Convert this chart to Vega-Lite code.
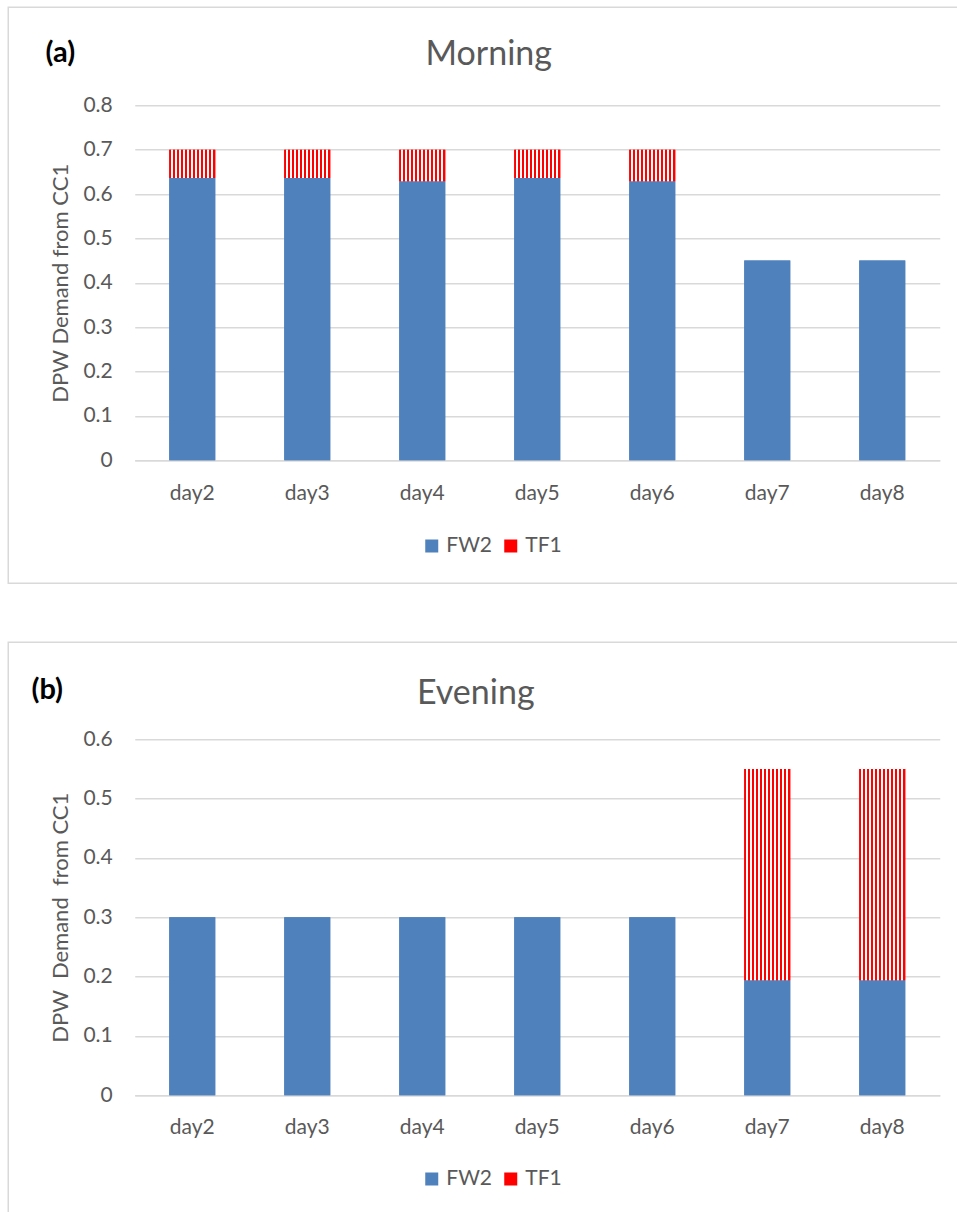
{
  "$schema": "https://vega.github.io/schema/vega-lite/v6.json",
  "padding": {"left": 7.25, "top": 6.25, "right": 0, "bottom": 0},
  "background": "white",
  "spacing": 57,
  "resolve": {"scale": {"fill": "independent"}, "legend": {"fill": "independent"}},
  "config": {
    "font": "Lato",
    "view": {"stroke": "#d9d9d9", "strokeWidth": 1.5},
    "axis": {"labelFont": "Lato", "titleFont": "Lato"},
    "legend": {"labelFont": "Lato"},
    "title": {"font": "Lato"}
  },
  "datasets": {
    "morning": [
      {"day": "day2", "series": "FW2", "value": 0.636},
      {"day": "day2", "series": "TF1", "value": 0.064},
      {"day": "day3", "series": "FW2", "value": 0.636},
      {"day": "day3", "series": "TF1", "value": 0.064},
      {"day": "day4", "series": "FW2", "value": 0.629},
      {"day": "day4", "series": "TF1", "value": 0.071},
      {"day": "day5", "series": "FW2", "value": 0.636},
      {"day": "day5", "series": "TF1", "value": 0.064},
      {"day": "day6", "series": "FW2", "value": 0.629},
      {"day": "day6", "series": "TF1", "value": 0.071},
      {"day": "day7", "series": "FW2", "value": 0.45},
      {"day": "day8", "series": "FW2", "value": 0.45}
    ],
    "evening": [
      {"day": "day2", "series": "FW2", "value": 0.3},
      {"day": "day3", "series": "FW2", "value": 0.3},
      {"day": "day4", "series": "FW2", "value": 0.3},
      {"day": "day5", "series": "FW2", "value": 0.3},
      {"day": "day6", "series": "FW2", "value": 0.3},
      {"day": "day7", "series": "FW2", "value": 0.194},
      {"day": "day7", "series": "TF1", "value": 0.356},
      {"day": "day8", "series": "FW2", "value": 0.194},
      {"day": "day8", "series": "TF1", "value": 0.356}
    ]
  },
  "vconcat": [
    {
      "title": {"text": "(a)", "anchor": "start", "frame": "bounds", "dx": 38, "offset": -84, "baseline": "alphabetic", "fontSize": 29, "fontWeight": "bold", "color": "#000000"},
      "vconcat": [
        {
          "data": {"name": "morning"},
          "width": 961,
          "height": 576,
          "title": {"text": "Morning", "anchor": "middle", "frame": "bounds", "offset": -92, "baseline": "alphabetic", "fontSize": 34, "fontWeight": "normal", "color": "#595959"},
          "encoding": {
            "x": {
              "field": "day", "type": "nominal",
              "sort": ["day2", "day3", "day4", "day5", "day6", "day7", "day8"],
              "scale": {"range": [126.5, 931.5], "paddingInner": 0.6, "paddingOuter": 0.3},
              "axis": {"title": null, "labelAngle": 0, "offset": -123, "ticks": false, "tickSize": 0, "domain": true, "domainColor": "#d9d9d9", "domainWidth": 1.5, "labelPadding": 22, "labelFontSize": 21, "labelColor": "#595959", "grid": false}
            },
            "y": {
              "field": "value", "type": "quantitative", "stack": "zero",
              "scale": {"domain": [0, 0.8], "nice": false, "range": [453, 98]},
              "axis": {"title": "DPW Demand from CC1", "offset": -126.5, "values": [0, 0.1, 0.2, 0.3, 0.4, 0.5, 0.6, 0.7, 0.8], "format": ".1~f", "ticks": false, "tickSize": 0, "domain": false, "grid": true, "gridColor": "#d9d9d9", "gridWidth": 1.5, "labelPadding": 22.5, "labelFontSize": 21, "labelColor": "#595959", "titleFontSize": 22, "titleFontWeight": "normal", "titleColor": "#595959", "titlePadding": 10}
            },
            "order": {"field": "series", "type": "nominal", "sort": "ascending"}
          },
          "layer": [
            {
              "mark": {"type": "bar"},
              "encoding": {
                "fill": {
                  "field": "series", "type": "nominal",
                  "scale": {"domain": ["FW2", "TF1"], "range": ["#4f81bd", "#ff0000"]},
                  "legend": {
                    "title": null, "orient": "none", "legendX": 413, "legendY": 528, "direction": "horizontal",
                    "symbolType": "square", "symbolSize": 169, "symbolStrokeWidth": 0, "labelFontSize": 21, "labelColor": "#595959", "labelOffset": 4, "columnPadding": 8, "padding": 0
                  }
                }
              }
            },
            {
              "mark": {"type": "bar"},
              "encoding": {
                "detail": {"field": "series", "type": "nominal"},
                "fill": {
                  "condition": {"test": "datum.series === 'TF1'", "value": {"gradient": "linear", "x1": 0, "y1": 0, "x2": 1, "y2": 0, "stops": [
                    {"offset": 0, "color": "#ff0000"},
                    {"offset": 0.04348, "color": "#ff0000"}, {"offset": 0.04348, "color": "#ffffff"},
                    {"offset": 0.08696, "color": "#ffffff"}, {"offset": 0.08696, "color": "#ff0000"},
                    {"offset": 0.13043, "color": "#ff0000"}, {"offset": 0.13043, "color": "#ffffff"},
                    {"offset": 0.17391, "color": "#ffffff"}, {"offset": 0.17391, "color": "#ff0000"},
                    {"offset": 0.21739, "color": "#ff0000"}, {"offset": 0.21739, "color": "#ffffff"},
                    {"offset": 0.26087, "color": "#ffffff"}, {"offset": 0.26087, "color": "#ff0000"},
                    {"offset": 0.30435, "color": "#ff0000"}, {"offset": 0.30435, "color": "#ffffff"},
                    {"offset": 0.34783, "color": "#ffffff"}, {"offset": 0.34783, "color": "#ff0000"},
                    {"offset": 0.3913, "color": "#ff0000"}, {"offset": 0.3913, "color": "#ffffff"},
                    {"offset": 0.43478, "color": "#ffffff"}, {"offset": 0.43478, "color": "#ff0000"},
                    {"offset": 0.47826, "color": "#ff0000"}, {"offset": 0.47826, "color": "#ffffff"},
                    {"offset": 0.52174, "color": "#ffffff"}, {"offset": 0.52174, "color": "#ff0000"},
                    {"offset": 0.56522, "color": "#ff0000"}, {"offset": 0.56522, "color": "#ffffff"},
                    {"offset": 0.6087, "color": "#ffffff"}, {"offset": 0.6087, "color": "#ff0000"},
                    {"offset": 0.65217, "color": "#ff0000"}, {"offset": 0.65217, "color": "#ffffff"},
                    {"offset": 0.69565, "color": "#ffffff"}, {"offset": 0.69565, "color": "#ff0000"},
                    {"offset": 0.73913, "color": "#ff0000"}, {"offset": 0.73913, "color": "#ffffff"},
                    {"offset": 0.78261, "color": "#ffffff"}, {"offset": 0.78261, "color": "#ff0000"},
                    {"offset": 0.82609, "color": "#ff0000"}, {"offset": 0.82609, "color": "#ffffff"},
                    {"offset": 0.86957, "color": "#ffffff"}, {"offset": 0.86957, "color": "#ff0000"},
                    {"offset": 0.91304, "color": "#ff0000"}, {"offset": 0.91304, "color": "#ffffff"},
                    {"offset": 0.95652, "color": "#ffffff"}, {"offset": 0.95652, "color": "#ff0000"},
                    {"offset": 1, "color": "#ff0000"}
                  ]}},
                  "value": "#4f81bd"
                }
              }
            }
          ]
        }
      ]
    },
    {
      "title": {"text": "(b)", "anchor": "start", "frame": "bounds", "dx": 24, "offset": -86, "baseline": "alphabetic", "fontSize": 29, "fontWeight": "bold", "color": "#000000"},
      "vconcat": [
        {
          "data": {"name": "evening"},
          "width": 961,
          "height": 576,
          "title": {"text": "Evening", "anchor": "middle", "frame": "bounds", "offset": -96, "dx": -13, "baseline": "alphabetic", "fontSize": 34, "fontWeight": "normal", "color": "#595959"},
          "encoding": {
            "x": {
              "field": "day", "type": "nominal",
              "sort": ["day2", "day3", "day4", "day5", "day6", "day7", "day8"],
              "scale": {"range": [126.5, 931.5], "paddingInner": 0.6, "paddingOuter": 0.3},
              "axis": {"title": null, "labelAngle": 0, "offset": -123, "ticks": false, "tickSize": 0, "domain": true, "domainColor": "#d9d9d9", "domainWidth": 1.5, "labelPadding": 21, "labelFontSize": 21, "labelColor": "#595959", "grid": false}
            },
            "y": {
              "field": "value", "type": "quantitative", "stack": "zero",
              "scale": {"domain": [0, 0.6], "nice": false, "range": [453, 97]},
              "axis": {"title": "DPW\u00a0 Demand\u00a0 from CC1", "offset": -126.5, "values": [0, 0.1, 0.2, 0.3, 0.4, 0.5, 0.6], "format": ".1~f", "ticks": false, "tickSize": 0, "domain": false, "grid": true, "gridColor": "#d9d9d9", "gridWidth": 1.5, "labelPadding": 22.5, "labelFontSize": 21, "labelColor": "#595959", "titleFontSize": 22, "titleFontWeight": "normal", "titleColor": "#595959", "titlePadding": 10}
            },
            "order": {"field": "series", "type": "nominal", "sort": "ascending"}
          },
          "layer": [
            {
              "mark": {"type": "bar"},
              "encoding": {
                "fill": {
                  "field": "series", "type": "nominal",
                  "scale": {"domain": ["FW2", "TF1"], "range": ["#4f81bd", "#ff0000"]},
                  "legend": {
                    "title": null, "orient": "none", "legendX": 413, "legendY": 526, "direction": "horizontal",
                    "symbolType": "square", "symbolSize": 169, "symbolStrokeWidth": 0, "labelFontSize": 21, "labelColor": "#595959", "labelOffset": 4, "columnPadding": 8, "padding": 0
                  }
                }
              }
            },
            {
              "mark": {"type": "bar"},
              "encoding": {
                "detail": {"field": "series", "type": "nominal"},
                "fill": {
                  "condition": {"test": "datum.series === 'TF1'", "value": {"gradient": "linear", "x1": 0, "y1": 0, "x2": 1, "y2": 0, "stops": [
                    {"offset": 0, "color": "#ff0000"},
                    {"offset": 0.04348, "color": "#ff0000"}, {"offset": 0.04348, "color": "#ffffff"},
                    {"offset": 0.08696, "color": "#ffffff"}, {"offset": 0.08696, "color": "#ff0000"},
                    {"offset": 0.13043, "color": "#ff0000"}, {"offset": 0.13043, "color": "#ffffff"},
                    {"offset": 0.17391, "color": "#ffffff"}, {"offset": 0.17391, "color": "#ff0000"},
                    {"offset": 0.21739, "color": "#ff0000"}, {"offset": 0.21739, "color": "#ffffff"},
                    {"offset": 0.26087, "color": "#ffffff"}, {"offset": 0.26087, "color": "#ff0000"},
                    {"offset": 0.30435, "color": "#ff0000"}, {"offset": 0.30435, "color": "#ffffff"},
                    {"offset": 0.34783, "color": "#ffffff"}, {"offset": 0.34783, "color": "#ff0000"},
                    {"offset": 0.3913, "color": "#ff0000"}, {"offset": 0.3913, "color": "#ffffff"},
                    {"offset": 0.43478, "color": "#ffffff"}, {"offset": 0.43478, "color": "#ff0000"},
                    {"offset": 0.47826, "color": "#ff0000"}, {"offset": 0.47826, "color": "#ffffff"},
                    {"offset": 0.52174, "color": "#ffffff"}, {"offset": 0.52174, "color": "#ff0000"},
                    {"offset": 0.56522, "color": "#ff0000"}, {"offset": 0.56522, "color": "#ffffff"},
                    {"offset": 0.6087, "color": "#ffffff"}, {"offset": 0.6087, "color": "#ff0000"},
                    {"offset": 0.65217, "color": "#ff0000"}, {"offset": 0.65217, "color": "#ffffff"},
                    {"offset": 0.69565, "color": "#ffffff"}, {"offset": 0.69565, "color": "#ff0000"},
                    {"offset": 0.73913, "color": "#ff0000"}, {"offset": 0.73913, "color": "#ffffff"},
                    {"offset": 0.78261, "color": "#ffffff"}, {"offset": 0.78261, "color": "#ff0000"},
                    {"offset": 0.82609, "color": "#ff0000"}, {"offset": 0.82609, "color": "#ffffff"},
                    {"offset": 0.86957, "color": "#ffffff"}, {"offset": 0.86957, "color": "#ff0000"},
                    {"offset": 0.91304, "color": "#ff0000"}, {"offset": 0.91304, "color": "#ffffff"},
                    {"offset": 0.95652, "color": "#ffffff"}, {"offset": 0.95652, "color": "#ff0000"},
                    {"offset": 1, "color": "#ff0000"}
                  ]}},
                  "value": "#4f81bd"
                }
              }
            }
          ]
        }
      ]
    }
  ]
}
